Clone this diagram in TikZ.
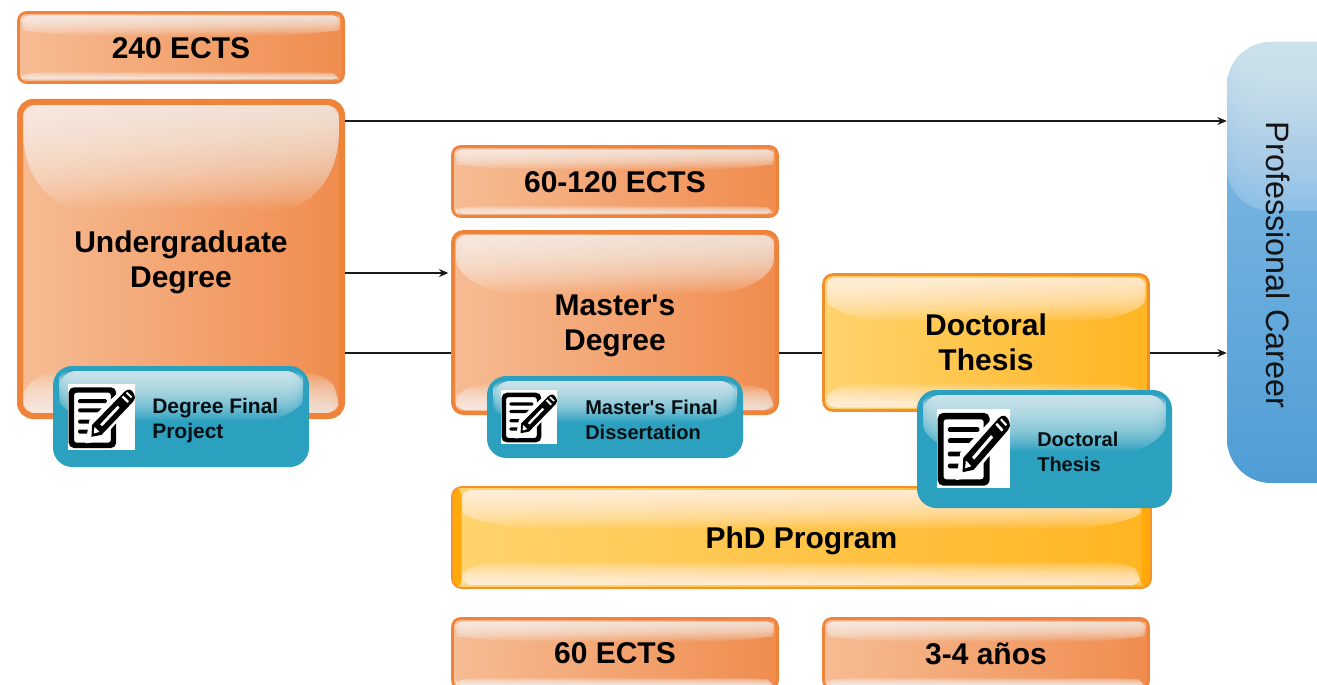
\documentclass[tikz,border=0pt]{standalone}
\usepackage{fontspec}
\setmainfont{Liberation Sans}[Ligatures=TeXOff]
\usetikzlibrary{arrows.meta,calc}
\definecolor{orA}{HTML}{F6BC94}
\definecolor{orB}{HTML}{F08C4E}
\definecolor{orE}{HTML}{F0833A}
\definecolor{yeA}{HTML}{FFD36E}
\definecolor{yeB}{HTML}{FFB522}
\definecolor{yeE}{HTML}{FFA90A}
\definecolor{teal}{HTML}{2BA0BF}
\definecolor{blA}{HTML}{86BDE6}
\definecolor{blB}{HTML}{4F9DD6}
% #1 width, #2 height, #3 side inset, #4 top gloss height, #5 bottom gloss height (0: none)
% inside an empty node the local origin is the node centre
\newcommand\glossy[5]{%
  \pgfmathsetmacro\gl{-(#1)/2+#3}\pgfmathsetmacro\gr{(#1)/2-#3}%
  \pgfmathsetmacro\gt{-(#2)/2+3}\pgfmathsetmacro\gb{(#2)/2-3}%
  \pgfmathsetmacro\gh{-(#2)/2+#4}\pgfmathsetmacro\gq{-(#2)/2+#4*0.72}%
  \pgfmathsetmacro\rr{min(13,#4/3)}%
  \pgfmathsetmacro\xa{(#1)/2-min((#1)*0.24,105)}\pgfmathsetmacro\xb{\xa+((#1)/2-\xa)*0.55}%
  \begin{scope}
    \clip (\gl,{\gt+\rr}) .. controls (\gl,{\gt+3}) and ({\gl+3},\gt) .. ({\gl+\rr},\gt)
      -- ({\gr-\rr},\gt) .. controls ({\gr-3},\gt) and (\gr,{\gt+3}) .. (\gr,{\gt+\rr})
      .. controls (\gr,\gq) and (\xb,\gh) .. (\xa,\gh)
      -- ({-\xa},\gh) .. controls ({-\xb},\gh) and (\gl,\gq) .. (\gl,{\gt+\rr}) -- cycle;
    \fill[white,fill opacity=0.04] (\gl,\gt) rectangle (\gr,\gh);
    \foreach \k in {1,...,30}{\fill[white,fill opacity=0.05] (\gl,\gt) rectangle (\gr,{\gt+(\gh-\gt)*(1-\k/30)});}
  \end{scope}
  \ifnum#5>0
  \pgfmathsetmacro\gu{\gb-#5}\pgfmathsetmacro\gv{\gb-#5*0.35}\pgfmathsetmacro\gw{\gb-#5*0.8}%
  \pgfmathsetmacro\xc{(#1)/2-min((#1)*0.2,70)}\pgfmathsetmacro\xd{\xc+((#1)/2-\xc)*0.5}%
  \begin{scope}
    \clip (\gl,\gv) .. controls ({\gl+8},\gw) and ({-\xd},\gu) .. ({-\xc},\gu)
      -- (\xc,\gu) .. controls (\xd,\gu) and ({\gr-8},\gw) .. (\gr,\gv)
      .. controls (\gr,{\gb-2}) and ({\gr-4},\gb) .. ({\gr-10},\gb)
      -- ({\gl+10},\gb) .. controls ({\gl+4},\gb) and (\gl,{\gb-2}) .. (\gl,\gv) -- cycle;
    \foreach \k in {1,...,30}{\fill[white,fill opacity=0.05] (\gl,{\gb-(#5)*(1-\k/30)}) rectangle (\gr,\gb);}
  \end{scope}
  \fi}
\tikzset{
  size/.style n args={2}{minimum width=#1*0.75pt,minimum height=#2*0.75pt},
  gloss/.style n args={5}{size={#1}{#2},path picture={\glossy{#1}{#2}{#3}{#4}{#5}}},
  boxbase/.style={rectangle,inner sep=0pt},
  boxtext/.style={inner sep=0pt,outer sep=0pt,align=center,font=\bfseries\fontsize{22.5}{26.2}\selectfont,text=black},
  txt/.style n args={2}{label={[boxtext,yshift=#1]center:{#2}}},
  orangebox/.style={boxbase,draw=orE,left color=orA,right color=orB},
  yellowbox/.style={boxbase,draw=orE!70!yeE,left color=yeA,right color=yeB},
  tealbox/.style={rectangle,draw=teal,fill=teal,line width=3pt,rounded corners=13pt,inner sep=0pt},
  teallabel/.style={anchor=west,inner sep=0pt,align=left,text=black!90!teal,font=\bfseries\fontsize{15.75}{18.75}\selectfont},
  teallabelb/.style={teallabel,font=\bfseries\fontsize{15}{18.75}\selectfont},
  link/.style={line width=1.1pt,draw=black!90},
  arrowlink/.style={link,-{Stealth[length=7pt,width=6pt]}},
  pics/noteicon/.style={code={
    \fill[white] (0,0) rectangle (100,100);
    \fill[black,even odd rule,rounded corners=4] (1,5) rectangle (72,97) [rounded corners=2] (9,13) rectangle (64,89);
    \foreach \ya/\xb in {23/58,37/52,54/42,69/36}{\fill[black,rounded corners=1] (15,\ya) rectangle (\xb,{\ya+6});}
    \fill[white] (26,90) -- (32,55) -- (88,0) -- (100,0) -- (100,28) -- (48,86) -- cycle;
    \fill[black] (35,80) -- (36,62) -- (84,12) .. controls (90,6) and (95,8) .. (98,14) .. controls (101,20) and (100,24) .. (97,27) -- (50,77) -- cycle;
    \fill[white] (38.5,75) -- (39.5,65) -- (47,72.5) -- cycle;
    \fill[white] (48,61) -- (74,33) -- (77,36) -- (51,64) -- cycle;
    \fill[white] (80,20) -- (82.5,17.5) -- (91,26) -- (88.5,28.5) -- cycle;
    \fill[white] (86.5,14) -- (88.5,12) -- (96,19.5) -- (94,21.5) -- cycle;
  }},
}
\begin{document}
\begin{tikzpicture}[x=0.75pt,y=-0.75pt]
\clip (0,0) rectangle (1317,685);
\fill[white] (0,0) rectangle (1317,685);
% upper-level boxes
\node[orangebox,line width=2pt,rounded corners=6pt,gloss={325}{70}{3}{23}{8},txt={-0.75pt}{240 ECTS}] (ectsa) at (181,47.5) {};
\node[orangebox,line width=4.5pt,rounded corners=10pt,gloss={322}{314}{3}{108}{43},txt={-2.25pt}{Undergraduate\\Degree}] (ug) at (181,259) {};
\node[orangebox,line width=2pt,rounded corners=6pt,gloss={325}{70}{3}{23}{8},txt={-0.75pt}{60-120 ECTS}] (ectsb) at (615,181.5) {};
\node[orangebox,line width=3pt,rounded corners=8pt,gloss={324}{181}{3}{62}{27},txt={-2.25pt}{Master's\\Degree}] (ms) at (615,322.5) {};
\node[yellowbox,line width=2pt,rounded corners=7pt,gloss={325}{136}{3}{47}{25},txt={0pt}{Doctoral\\Thesis}] (dt) at (986,342.5) {};
\node[yellowbox,line width=1.3pt,rounded corners=7pt,size={699}{101},draw=orE!60!yeE,txt={-2.25pt}{PhD Program},
  path picture={\fill[yeE] (-350,-51) rectangle (-340,51); \fill[yeE] (340,-51) rectangle (350,51); \glossy{699}{101}{10}{42}{24}}] (phd) at (801.5,537.5) {};
\node[orangebox,line width=2pt,rounded corners=6pt,gloss={325}{70}{3}{23}{8},txt={0pt}{60 ECTS}] (ectsc) at (615,653.5) {};
\node[orangebox,line width=2pt,rounded corners=6pt,gloss={325}{70}{3}{23}{8},txt={0pt}{3-4 años}] (anos) at (986,653.5) {};
% career column
\node[rectangle,minimum width=135*0.75pt,minimum height=441*0.75pt,rounded corners=33pt,inner sep=0pt,top color=blA,bottom color=blB,
  path picture={
    \fill[white,fill opacity=0.2] (-68,-221) rectangle (68,-52);
    \foreach \k in {1,...,30}{\fill[white,fill opacity=0.03] (-68,-221) rectangle (68,{-221+169*(1-\k/30)});}
  }] (cr) at (1294.5,262.5) {};
\node[inner sep=0pt,rotate=-90,font=\fontsize{24.3}{28}\selectfont,text=black!92] (crlabel) at (1278,265) {Professional Career};
% connectors
\coordinate (ya) at (0,121);
\coordinate (yb) at (0,273);
\coordinate (yc) at (0,353);
\draw[arrowlink] (ug.east |- ya) -- (cr.west |- ya);
\draw[arrowlink,shorten >=2pt] (ug.east |- yb) -- (ms.west |- yb);
\draw[link] (ug.east |- yc) -- (ms.west |- yc);
\draw[link] (ms.east |- yc) -- (dt.west |- yc);
\draw[arrowlink] (dt.east |- yc) -- (cr.west |- yc);
% output badges
\node[tealbox,gloss={252}{97}{4}{53}{0}] (ba) at (181,416.5) {};
\pic[xscale=0.67,yscale=0.66] (ia) at (68,384) {noteicon};
\node[teallabel] (la) at (152,420.5) {Degree Final\\Project};
\node[tealbox,gloss={252}{78}{4}{44}{0}] (bb) at (615,417) {};
\pic[xscale=0.56,yscale=0.54] (ib) at (501,390) {noteicon};
\node[teallabelb] (lb) at (585,419.5) {Master's Final\\Dissertation};
\node[tealbox,gloss={251}{114}{4}{60}{0}] (bc) at (1044.5,449) {};
\pic[xscale=0.73,yscale=0.79] (ic) at (937,409) {noteicon};
\node[teallabelb] (lc) at (1037,451.5) {Doctoral\\Thesis};
\end{tikzpicture}
\end{document}
